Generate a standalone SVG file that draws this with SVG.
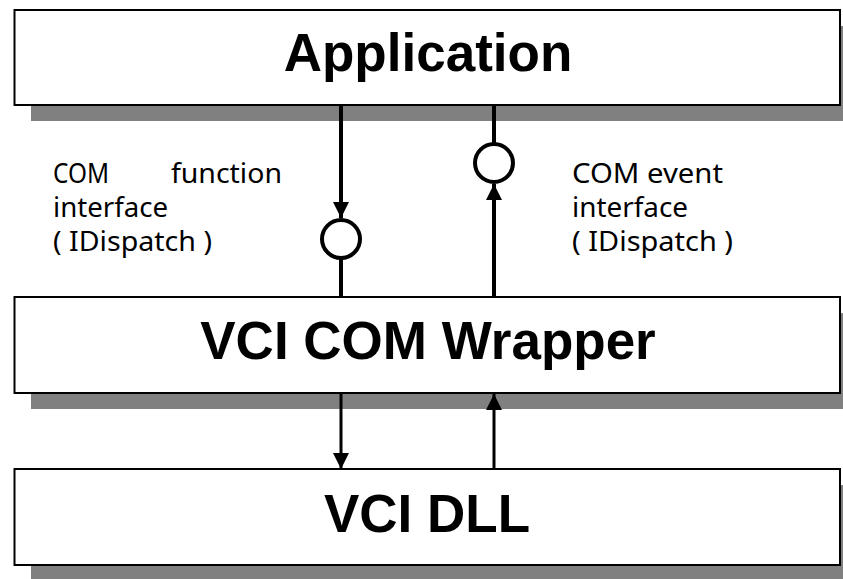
<svg xmlns="http://www.w3.org/2000/svg" width="843" height="579" viewBox="0 0 843 579">
<style>
.box{fill:#fff;stroke:#000;stroke-width:2}
.shadow{fill:#808080}
.title{font-family:"Liberation Sans",Arial,sans-serif;font-weight:bold;font-size:53px;text-anchor:middle;fill:#000}
.lbl{font-family:"Noto Sans","Noto Sans CJK KR",sans-serif;font-size:27px;fill:#000}
.ln{stroke:#000;stroke-width:4;fill:none}
.ln2{stroke:#000;stroke-width:3;fill:none}
.lollipop{fill:#fff;stroke:#000;stroke-width:4}
</style>
<defs>
<marker id="ah" markerUnits="userSpaceOnUse" markerWidth="16" markerHeight="16" refX="15" refY="7.5" orient="auto" viewBox="0 0 15 15">
<path d="M0,0 L15,7.5 L0,15 Z" fill="#000"/>
</marker>
</defs>
<rect width="843" height="579" fill="#fff"/>
<g id="application">
<rect class="shadow" x="31" y="26" width="830" height="95"/>
<rect class="box" x="14.5" y="10" width="825.5" height="95"/>
<text class="title" x="428" y="71">Application</text>
</g>
<g id="wrapper">
<rect class="shadow" x="31" y="313" width="830" height="96"/>
<rect class="box" x="14.5" y="297" width="825.5" height="96"/>
<text class="title" x="428" y="359">VCI COM Wrapper</text>
</g>
<g id="dll">
<rect class="shadow" x="31" y="485" width="830" height="96"/>
<rect class="box" x="14.5" y="469" width="825.5" height="96"/>
<text class="title" x="427" y="532">VCI DLL</text>
</g>
<g id="connectors">
<line class="ln" x1="341" y1="105" x2="341" y2="218" marker-end="url(#ah)"/>
<line class="ln" x1="341" y1="258" x2="341" y2="297"/>
<circle class="lollipop" cx="341" cy="239" r="19"/>
<line class="ln" x1="494" y1="105" x2="494" y2="144"/>
<circle class="lollipop" cx="494" cy="163" r="19"/>
<line class="ln" x1="494" y1="297" x2="494" y2="184" marker-end="url(#ah)"/>
<line class="ln2" x1="341" y1="393" x2="341" y2="469" marker-end="url(#ah)"/>
<line class="ln2" x1="494" y1="469" x2="494" y2="394" marker-end="url(#ah)"/>
</g>
<g id="label-function">
<text class="lbl" x="53" y="183" textLength="56" lengthAdjust="spacingAndGlyphs">COM</text>
<text class="lbl" x="171" y="183" textLength="111" lengthAdjust="spacingAndGlyphs">function</text>
<text class="lbl" x="53" y="217" textLength="115" lengthAdjust="spacingAndGlyphs">interface</text>
<text class="lbl" x="53" y="251" textLength="159" lengthAdjust="spacingAndGlyphs">( IDispatch )</text>
</g>
<g id="label-event">
<text class="lbl" x="572" y="183" textLength="151" lengthAdjust="spacingAndGlyphs">COM event</text>
<text class="lbl" x="572" y="217" textLength="116" lengthAdjust="spacingAndGlyphs">interface</text>
<text class="lbl" x="572" y="251" textLength="161" lengthAdjust="spacingAndGlyphs">( IDispatch )</text>
</g>
</svg>
